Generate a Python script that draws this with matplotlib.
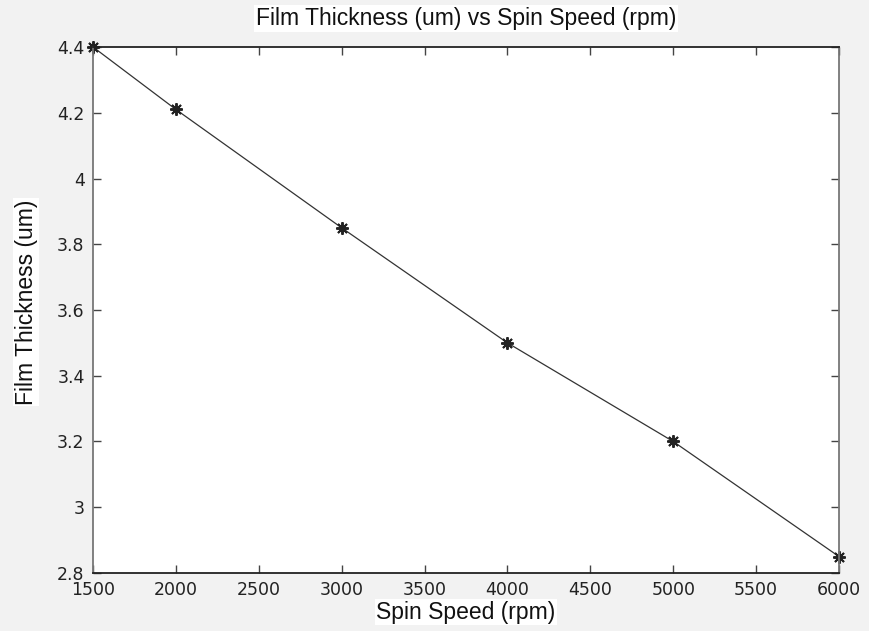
import matplotlib
matplotlib.use("Agg")
import matplotlib.pyplot as plt

speed_rpm = [1500, 2000, 3000, 4000, 5000, 6000]
thickness_um = [4.40, 4.21, 3.85, 3.50, 3.20, 2.85]
x_ticks = [1500, 2000, 2500, 3000, 3500, 4000, 4500, 5000, 5500, 6000]
y_ticks = [2.8, 3.0, 3.2, 3.4, 3.6, 3.8, 4.0, 4.2, 4.4]
y_tick_labels = ["2.8", "3", "3.2", "3.4", "3.6", "3.8", "4", "4.2", "4.4"]

fig = plt.figure(figsize=(8.7, 6.31), dpi=100, facecolor="#f2f2f2")
ax = fig.add_axes([93/870, 1-573/631, (839-93)/870, (573-47)/631])
ax.set_facecolor("white")

ax.plot(speed_rpm, thickness_um, color="#333333", lw=0.9,
        marker=(8, 2, 0), markersize=9, markeredgewidth=1.4,
        markeredgecolor="#222222", clip_on=False)

ax.set_xlim(1500, 6000)
ax.set_ylim(2.8, 4.4)
ax.set_xticks(x_ticks)
ax.set_xticklabels([str(v) for v in x_ticks], fontsize=12.5, family="DejaVu Sans", color="#222222")
ax.set_yticks(y_ticks)
ax.set_yticklabels(y_tick_labels, fontsize=12.5, family="DejaVu Sans", color="#222222")
ax.tick_params(direction="in", top=True, right=True, length=6, width=1,
               color="#444444")
ax.tick_params(axis="x", pad=6)
ax.tick_params(axis="y", pad=6)

for s in ["top", "bottom"]:
    ax.spines[s].set_color("#222222")
    ax.spines[s].set_linewidth(1.3)
for s in ["left", "right"]:
    ax.spines[s].set_color("#777777")
    ax.spines[s].set_linewidth(1.3)

fnt = dict(family="Liberation Sans", fontsize=16.5, color="#111111")
box = dict(facecolor="white", edgecolor="none", pad=1)
ax.set_title("Film Thickness (um) vs Spin Speed (rpm)", pad=16, bbox=box, **fnt)
ax.set_xlabel("Spin Speed (rpm)", labelpad=1, bbox=box, **fnt)
ax.set_ylabel("Film Thickness (um)", bbox=box, **fnt)
ax.yaxis.set_label_coords(-0.074, 0.515)

fig.savefig("out.png", dpi=100, facecolor=fig.get_facecolor())
